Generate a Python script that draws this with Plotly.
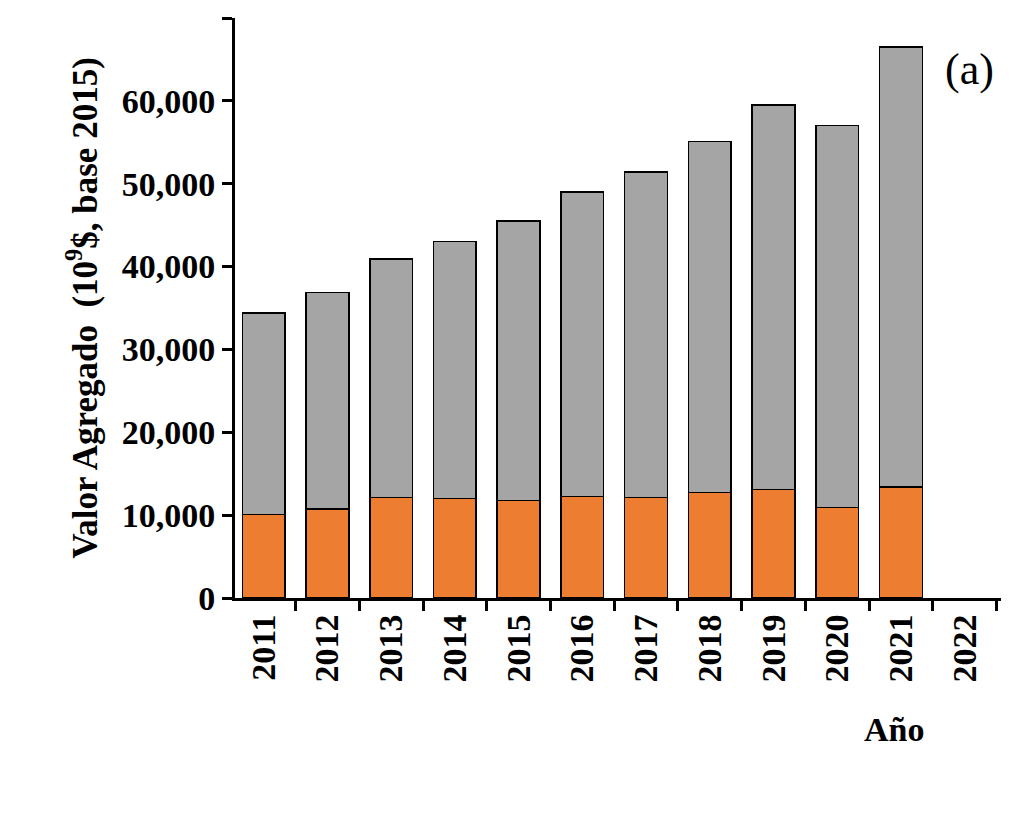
import plotly.graph_objects as go

years = ["2011","2012","2013","2014","2015","2016","2017","2018","2019","2020","2021","2022"]
total = [34400, 36900, 40900, 43000, 45500, 49000, 51400, 55100, 59500, 57000, 66500, None]
orange = [10100, 10750, 12100, 12000, 11750, 12250, 12100, 12750, 13100, 10900, 13400, None]
gray = [t - o if t is not None else None for t, o in zip(total, orange)]

tf = dict(family="Liberation Serif", size=34, color="black", weight="bold")
fig = go.Figure()
fig.add_bar(x=years, y=orange, marker=dict(color="#ED7D31", line=dict(color="black", width=1.5)))
fig.add_bar(x=years, y=gray, marker=dict(color="#A5A5A5", line=dict(color="black", width=1.5)))
L, R, T, B = 227, 38, 10, 228
W, H = 1031 - L - R, 818 - T - B
def px(x): return (x - L) / W
def py(y): return (818 - B - y) / H
fig.update_layout(
    barmode="stack", bargap=0.33, showlegend=False, width=1031, height=818,
    plot_bgcolor="white", paper_bgcolor="white",
    margin=dict(l=L, r=R, t=T, b=B), font=dict(family="Liberation Serif", color="black"),
    xaxis=dict(range=[-0.45, 11.57], showline=True, linecolor="black", linewidth=3,
               ticks="outside", tickcolor="black", ticklen=10, tickwidth=3, tickangle=-90,
               tickfont=tf, tickson="boundaries"),
    yaxis=dict(range=[0, 70000], dtick=10000, tickformat=",", showline=True, linecolor="black",
               linewidth=3, ticks="outside", tickcolor="black", ticklen=10, tickwidth=3,
               showgrid=False, zeroline=False, tickfont=tf,
               title=dict(text="<b>Valor Agregado  (10<sup>9</sup>$, base 2015)</b>", standoff=14,
                          font=dict(family="Liberation Serif", size=35, color="black"))),
    annotations=[
        dict(text="<b>Año</b>", x=px(918), y=py(742), xref="paper", yref="paper", showarrow=False,
             font=dict(family="Liberation Serif", size=34, color="black")),
        dict(text="(a)", x=px(988), y=py(35), xref="paper", yref="paper", showarrow=False,
             font=dict(family="Liberation Serif", size=44, color="black")),
    ],
)
fig.write_html("out.html")
